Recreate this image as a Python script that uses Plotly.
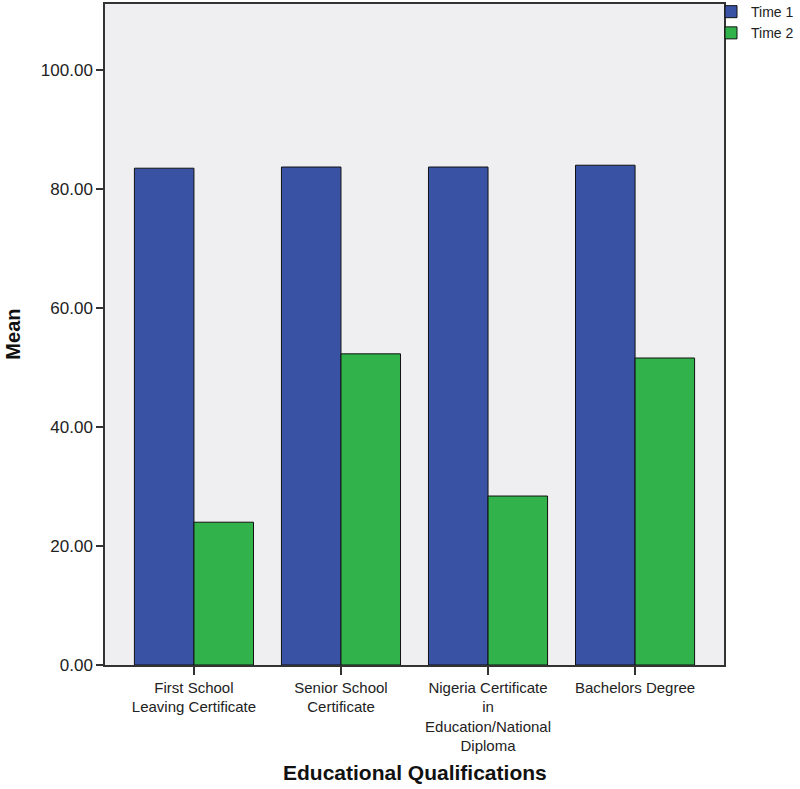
import plotly.graph_objects as go

# data
categories = ["First School<br>Leaving Certificate", "Senior School<br>Certificate",
              "Nigeria Certificate<br>in<br>Education/National<br>Diploma", "Bachelors Degree"]
time1 = [83.5, 83.7, 83.7, 84.0]
time2 = [24.0, 52.3, 28.4, 51.6]
y_ticks = [0, 20, 40, 60, 80, 100]

blue = '#3a52a4'
green = '#31b24b'
font = 'Arial, Liberation Sans, sans-serif'

fig = go.Figure()
fig.add_trace(go.Bar(x=categories, y=time1, name='Time 1',
                     marker=dict(color=blue, line=dict(color='#111111', width=1))))
fig.add_trace(go.Bar(x=categories, y=time2, name='Time 2',
                     marker=dict(color=green, line=dict(color='#111111', width=1))))

fig.update_layout(
    width=800, height=789,
    margin=dict(l=105, r=76, t=4, b=124, autoexpand=False),
    paper_bgcolor='white',
    plot_bgcolor='#efeff1',
    barmode='group',
    bargap=0.19,
    bargroupgap=0,
    font=dict(family=font, color='#222222'),
    legend=dict(x=0.979, y=1.012, xanchor='left', yanchor='top',
                bgcolor='rgba(0,0,0,0)', font=dict(size=14, color='#222222'),
                itemwidth=30, tracegroupgap=0),
    annotations=[
        dict(text='<b>Educational Qualifications</b>', x=0.5, y=-0.163, xref='paper', yref='paper',
             showarrow=False, xanchor='center', yanchor='middle', font=dict(size=21, color='#111111')),
        dict(text='<b>Mean</b>', x=-0.150, y=0.5, xref='paper', yref='paper', textangle=-90,
             showarrow=False, xanchor='center', yanchor='middle', font=dict(size=20, color='#111111')),
    ],
)

fig.update_xaxes(range=[-0.605, 3.605], showline=True, mirror=True, linecolor='#333333', linewidth=1.5,
                 ticks='outside', ticklen=8, tickcolor='#333333', tickwidth=1.5,
                 tickfont=dict(size=15, color='#222222'), showgrid=False)
fig.update_yaxes(range=[0, 111.1], tickvals=y_ticks, tickformat='.2f',
                 showline=True, mirror=True, linecolor='#333333', linewidth=1.5,
                 ticks='outside', ticklen=7, tickcolor='#333333', tickwidth=1.5,
                 tickfont=dict(size=17, color='#222222'), showgrid=False, zeroline=False)

# drop the default page margin so the figure sits at the window's top-left corner
fig.write_html("out.html", config={'displayModeBar': False},
               post_script="document.body.style.margin='0';")
